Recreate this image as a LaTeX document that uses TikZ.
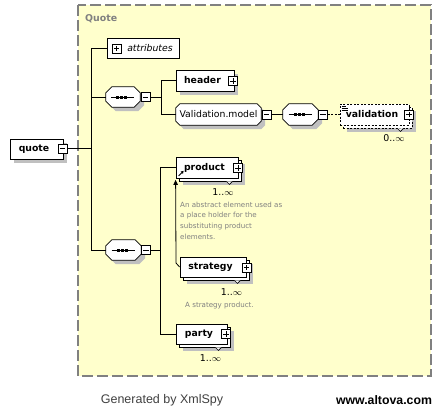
\documentclass[tikz,border=0pt]{standalone}
\usepackage{fontspec}
\setmainfont{DejaVu Sans}
\newfontfamily\footfont{Liberation Sans}
\usetikzlibrary{shadows,arrows.meta}
\definecolor{bgyellow}{RGB}{255,255,204}
\definecolor{bordergray}{RGB}{128,128,128}
\definecolor{shadowgray}{RGB}{192,192,192}
\definecolor{descgray}{RGB}{128,128,128}
\newcommand\lblgap{\hspace*{5pt}}
\newcommand\elemfont{\fontsize{9.3}{11}\selectfont\bfseries}
\newcommand\infsym{\raisebox{0.2pt}{$\infty$}}
% octagon outline around node #1: chamfer #2 x #3, offset (#4,#5)
\newcommand\octpath[5]{([shift={({#2+#4},{#5})}]#1.north west) -- ([shift={({-#2+#4},{#5})}]#1.north east) -- ([shift={({#4},{-#3+(#5)})}]#1.north east) -- ([shift={({#4},{#3+(#5)})}]#1.south east) -- ([shift={({-#2+#4},{#5})}]#1.south east) -- ([shift={({#2+#4},{#5})}]#1.south west) -- ([shift={({#4},{#3+(#5)})}]#1.south west) -- ([shift={({#4},{-#3+(#5)})}]#1.north west) -- cycle}
\newcommand\seqicon[1]{%
  \draw[line width=1pt] ([xshift=-12pt]#1.center) -- ([xshift=11pt]#1.center);
  \fill ([xshift=-5.5pt]#1.center) +(-1.5pt,-1.5pt) rectangle +(1.5pt,1.5pt);
  \fill ([xshift=-1.5pt]#1.center) +(-1.5pt,-1.5pt) rectangle +(1.5pt,1.5pt);
  \fill ([xshift=2.5pt]#1.center) +(-1.5pt,-1.5pt) rectangle +(1.5pt,1.5pt);
}
\tikzset{
  conn/.style={line width=0.8pt, draw=black},
  elembase/.style={draw=black, fill=white, line width=0.8pt, inner sep=0pt, font=\elemfont},
  single/.style={elembase, general shadow={fill=shadowgray, draw=none, shadow xshift=4pt, shadow yshift=-4pt}},
  multi/.style={elembase,
    general shadow={fill=shadowgray, draw=none, shadow xshift=7pt, shadow yshift=-7pt},
    general shadow={fill=white, draw=black, line width=0.8pt, shadow xshift=3pt, shadow yshift=-3pt}},
  multidash/.style={elembase, dash pattern=on 2pt off 1.5pt,
    general shadow={fill=shadowgray, draw=none, shadow xshift=7pt, shadow yshift=-7pt},
    general shadow={fill=white, draw=black, line width=0.8pt, dash pattern=on 2pt off 1.5pt, shadow xshift=3pt, shadow yshift=-3pt}},
  octnode/.style={draw=none, inner sep=0pt},
  pmbase/.style={draw=black, fill=white, line width=0.7pt, minimum width=9pt, minimum height=9pt, inner sep=0pt},
  plusbox/.style={pmbase, path picture={\draw[line width=0.7pt] ([xshift=-2.7pt]path picture bounding box.center) -- ([xshift=2.7pt]path picture bounding box.center) ([yshift=-2.7pt]path picture bounding box.center) -- ([yshift=2.7pt]path picture bounding box.center);}},
  minusbox/.style={pmbase, path picture={\draw[line width=0.7pt] ([xshift=-2.7pt]path picture bounding box.center) -- ([xshift=2.7pt]path picture bounding box.center);}},
  desc/.style={font=\fontsize{7.1}{10.7}\selectfont, text=descgray, align=left, inner sep=0pt, anchor=north west},
  mult/.style={font=\fontsize{9.4}{10}\selectfont, inner sep=0pt},
  notch/.style={line width=0.7pt, draw=black, fill=white}
}
\begin{document}
\begin{tikzpicture}[x=1pt,y=-1pt]
\useasboundingbox[fill=white] (0,0) rectangle (442,407);
% panel
\draw[fill=bgyellow, draw=bordergray, line width=1.3pt, dash pattern=on 11pt off 4pt] (78,5) rectangle (431,376);
\node[font=\bfseries\fontsize{9.4}{11}\selectfont, text=descgray, anchor=west, inner sep=0pt] (qlbl) at (85,19) {Quote};

% junction coordinates
\coordinate (tq) at (91,148.5);
\coordinate (tb) at (161,97);
\coordinate (tc) at (160,250);
\coordinate (sk) at (176,263);

% octagon holders (compositors and group reference)
\node[octnode, minimum width=34pt, minimum height=20pt] (s1) at (123,97) {};
\node[octnode, minimum width=35pt, minimum height=21pt] (s2) at (300.5,114.5) {};
\node[octnode, minimum width=35pt, minimum height=20pt] (s3) at (123.5,250) {};
\node[octnode, minimum width=85pt, minimum height=21pt] (vm) at (218.5,114.5) {};

% element boxes
\node[single, minimum width=53pt, minimum height=20pt] (quote) at (36.5,149) {quote\lblgap};
\node[elembase, minimum width=72pt, minimum height=20pt, font=\fontsize{9.3}{11}\selectfont\itshape] (attr) at (143,48) {\hspace*{14pt}attributes};
\node[single, minimum width=58pt, minimum height=21pt] (header) at (205,80.5) {header\lblgap};
\node[multidash, minimum width=69pt, minimum height=21pt] (val) at (374.5,114.5) {validation\lblgap};
\node[multi, minimum width=62pt, minimum height=21pt] (prod) at (207,167.5) {product\lblgap};
\node[multi, minimum width=66pt, minimum height=20pt] (strat) at (213,267) {strategy\lblgap};
\node[multi, minimum width=51pt, minimum height=20pt] (party) at (201.5,334) {party\lblgap};

% octagon drawings
\fill[shadowgray] \octpath{s1}{6pt}{6pt}{4pt}{-4pt};
\filldraw[fill=white, draw=black, line width=0.8pt] \octpath{s1}{6pt}{6pt}{0pt}{0pt};
\seqicon{s1}
\fill[shadowgray] \octpath{s2}{6pt}{6pt}{4pt}{-4pt};
\filldraw[fill=white, draw=black, line width=0.8pt] \octpath{s2}{6pt}{6pt}{0pt}{0pt};
\seqicon{s2}
\fill[shadowgray] \octpath{s3}{6pt}{6pt}{4pt}{-4pt};
\filldraw[fill=white, draw=black, line width=0.8pt] \octpath{s3}{6pt}{6pt}{0pt}{0pt};
\seqicon{s3}
\fill[shadowgray] \octpath{vm}{4pt}{4pt}{4pt}{-4pt};
\filldraw[fill=white, draw=black, line width=0.8pt] \octpath{vm}{4pt}{4pt}{0pt}{0pt};
\node[font=\fontsize{9.3}{11}\selectfont, inner sep=0pt] (vmtext) at (vm.center) {Validation.model};

% plus / minus boxes
\node[minusbox] (qm) at (62.5,148.5) {};
\node[plusbox] (attrp) at (116.5,48.5) {};
\node[minusbox] (s1m) at (145.5,97) {};
\node[plusbox] (headp) at (233,81) {};
\node[minusbox] (vmm) at (266.5,114.5) {};
\node[minusbox] (s2m) at (323,114.5) {};
\node[plusbox] (valp) at (409,114.5) {};
\node[minusbox] (s3m) at (146,250) {};
\node[plusbox] (prodp) at (238,168) {};
\node[plusbox] (stratp) at (246.5,267.5) {};
\node[plusbox] (partyp) at (226,334) {};

% connectors
\draw[conn] (qm.east) -- (tq);
\draw[conn] (attr.west) -- (attr.west -| tq) -- (s3.west -| tq) -- (s3.west);
\draw[conn] (s1.west -| tq) -- (s1.west);
\draw[conn] (s1m.east) -- (tb);
\draw[conn] (header.west) -- (header.west -| tb) -- (vm.west -| tb) -- (vm.west);
\draw[conn] (vmm.east) -- (s2.west);
\draw[conn, dash pattern=on 2pt off 1.5pt] (s2m.east) -- (val.west);
\draw[conn] (s3m.east) -- (tc);
\draw[conn] (prod.west) -- (prod.west -| tc) -- (party.west -| tc) -- (party.west);
\draw[conn, -{Triangle[length=5pt,width=4.5pt]}, shorten >=1.5pt] (strat.west) -- (sk) -- (prod.south west);

% small icons
\draw[line width=0.9pt, -{Triangle[length=2.5pt,width=3pt]}] ([shift={(3pt,2.5pt)}]prod.south west) -- ++(5pt,5pt);
\draw[line width=0.6pt] ([shift={(2pt,-2.5pt)}]val.north west) -- ++(4pt,0pt)
  ([shift={(2pt,-4.5pt)}]val.north west) -- ++(6pt,0pt)
  ([shift={(2pt,-6.5pt)}]val.north west) -- ++(6pt,0pt);
\draw[notch] ([shift={(-12pt,-3pt)}]prod.south east) -- ++(3pt,-3pt) -- ++(3pt,3pt);
\draw[notch] ([shift={(-12pt,-3pt)}]strat.south east) -- ++(3pt,-3pt) -- ++(3pt,3pt);
\draw[notch] ([shift={(-12pt,-3pt)}]party.south east) -- ++(3pt,-3pt) -- ++(3pt,3pt);
\draw[notch] ([shift={(-12pt,-3pt)}]val.south east) -- ++(3pt,-3pt) -- ++(3pt,3pt);

% multiplicities
\node[mult] (prodm) at (223,192) {1..\infsym};
\node[mult] (stratm) at (231.5,292.5) {1..\infsym};
\node[mult] (partym) at (210.5,358) {1..\infsym};
\node[mult] (valm) at (394,138) {0..\infsym};

% descriptions
\node[desc] (proddesc) at (180,201.5) {An abstract element used as\\a place holder for the\\substituting product\\elements.};
\node[desc] (stratdesc) at (185,302) {A strategy product.};

% footer
\node[font=\footfont\fontsize{12.5}{14}\selectfont, text=black!75, inner sep=0pt] (gen) at (162,400) {Generated by XmlSpy};
\node[font=\footfont\bfseries\fontsize{12.3}{14}\selectfont, inner sep=0pt] (alt) at (384,400) {www.altova.com};
\end{tikzpicture}
\end{document}
